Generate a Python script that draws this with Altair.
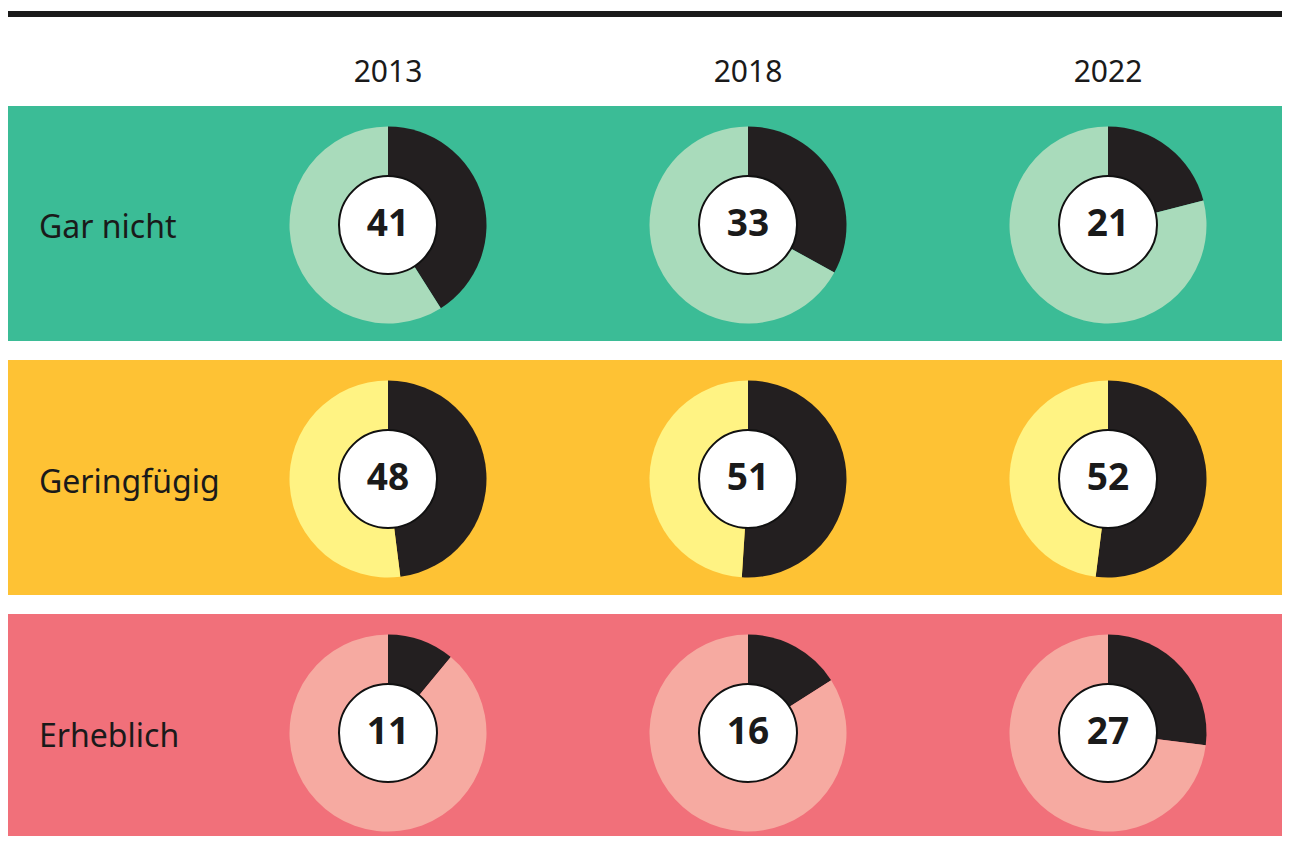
import altair as alt
import pandas as pd

categories = ["Gar nicht", "Geringfügig", "Erheblich"]
years = ["2013", "2018", "2022"]
values_gar_nicht = [41, 33, 21]
values_geringfuegig = [48, 51, 52]
values_erheblich = [11, 16, 27]

band_colors = ["#3BBC96", "#FEC234", "#F1707A"]
light_colors = ["#A9DBBB", "#FFF383", "#F6AAA1"]
dark_color = "#231F20"

W, H = 1274, 828
FONT = "Noto Sans"

series = [values_gar_nicht, values_geringfuegig, values_erheblich]
rows = []
for cat, vals in zip(categories, series):
    for yr, v in zip(years, vals):
        rows.append({"cat": cat, "year": yr, "value": v, "start": 0, "end": v,
                     "key": "dunkel"})
        rows.append({"cat": cat, "year": yr, "value": v, "start": v, "end": 100,
                     "key": cat + " hell"})
df = pd.DataFrame(rows)
df_vals = df[df["key"] == "dunkel"].reset_index(drop=True)
df_cats = pd.DataFrame({"cat": categories, "key": [c + " band" for c in categories]})
df_years = pd.DataFrame({"year": years})

color_domain = [c + " band" for c in categories] + [c + " hell" for c in categories] + ["dunkel"]
color_range = band_colors + light_colors + [dark_color]
color_scale = alt.Scale(domain=color_domain, range=color_range)

yscale = alt.Scale(domain=categories, range=[98, 841], paddingInner=0.075, paddingOuter=0)
xscale = alt.Scale(domain=years, range=[380, 1100], padding=0)

Y = alt.Y("cat:N", scale=yscale, axis=None)
X = alt.X("year:N", scale=xscale, axis=None)

bands = alt.Chart(df_cats).mark_rect().encode(
    y=Y,
    x=alt.value(0),
    x2=alt.value(W),
    color=alt.Color("key:N", scale=color_scale, legend=None),
)

cat_labels = alt.Chart(df_cats).mark_text(
    align="left", baseline="middle", font=FONT, fontSize=32, color="#1a1a1a", dy=5
).encode(y=Y, x=alt.value(31), text="cat:N")

year_labels = alt.Chart(df_years).mark_text(
    align="center", baseline="middle", font=FONT, fontSize=30, color="#1a1a1a"
).encode(x=X, y=alt.value(65), text="year:N")

arcs = alt.Chart(df).mark_arc(outerRadius=98.5, innerRadius=0, yOffset=1.5).encode(
    x=X,
    y=Y,
    theta=alt.Theta("start:Q", scale=alt.Scale(domain=[0, 100], range=[0, 6.283185307])),
    theta2="end:Q",
    color=alt.Color("key:N", scale=color_scale, legend=None),
)

holes = alt.Chart(df_vals).mark_circle(
    size=9604, color="white", opacity=1, stroke="#111111", strokeWidth=2, yOffset=1.5
).encode(x=X, y=Y)

numbers = alt.Chart(df_vals).mark_text(
    align="center", baseline="middle", font=FONT, fontSize=37, fontWeight="bold",
    color="#1a1a1a", dy=1.5
).encode(x=X, y=Y, text="value:Q")

top_rule = alt.Chart(df_years).mark_rule(color="#1a1a1a", strokeWidth=6).encode(
    x=alt.value(0), x2=alt.value(W), y=alt.value(6)
)

chart = alt.layer(
    bands, top_rule, cat_labels, year_labels, arcs, holes, numbers
).properties(
    width=W, height=H, padding=0, autosize=alt.AutoSizeParams(type="none")
).configure_view(stroke=None)

chart.save("out.html", embed_options={"renderer": "svg", "actions": False})
